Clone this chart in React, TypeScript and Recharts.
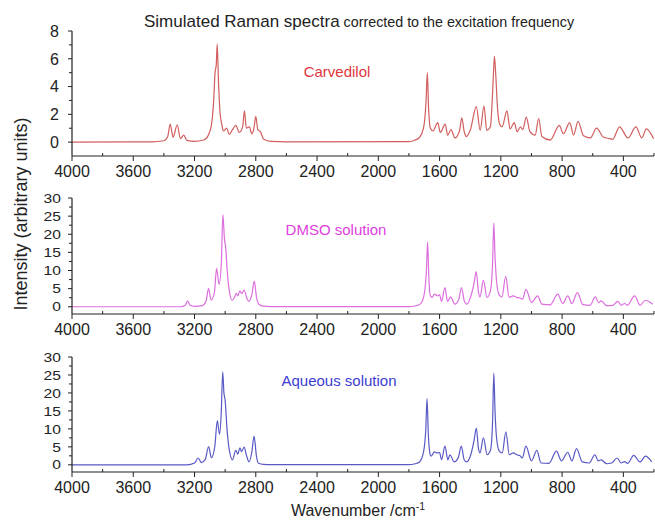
import { LineChart, Line, XAxis, YAxis } from 'recharts'

// wavenumber (cm-1), intensity, high to low wavenumber
const carvedilol: [number, number][] = [
  [4000, 0], [3480, 0.02], [3400, 0.1], [3375, 0.4], [3359, 1.3], [3340, 0.35], [3313, 1.25], [3292, 0.25],
  [3270, 0.5], [3250, 0.12], [3200, 0.05], [3140, 0.15], [3110, 0.5], [3090, 1.2], [3075, 3.0], [3066, 5.0],
  [3058, 5.6], [3052, 7.05], [3044, 4.5], [3034, 2.2], [3022, 1.3], [3012, 0.8], [2990, 1.0], [2973, 0.55],
  [2952, 0.9], [2930, 1.2], [2908, 0.7], [2886, 1.1], [2874, 2.25], [2862, 1.0], [2842, 1.1], [2826, 0.6],
  [2812, 1.0], [2800, 1.85], [2787, 0.9], [2770, 0.75], [2748, 0.2], [2700, 0.05], [2600, 0.02], [1800, 0.03],
  [1760, 0.15], [1730, 0.35], [1705, 1.0], [1688, 3.0], [1680, 5.0], [1672, 2.5], [1660, 1.0], [1643, 0.8],
  [1612, 1.4], [1595, 0.7], [1563, 1.3], [1547, 0.5], [1525, 0.9], [1500, 0.3], [1470, 0.8], [1455, 1.75],
  [1440, 0.8], [1425, 0.4], [1400, 0.85], [1360, 2.55], [1335, 0.85], [1310, 2.6], [1292, 0.85], [1268, 1.1],
  [1250, 4.5], [1242, 6.2], [1234, 5.0], [1222, 2.5], [1208, 1.3], [1192, 1.1], [1160, 2.25], [1140, 0.95],
  [1112, 1.4], [1094, 0.75], [1072, 1.1], [1057, 0.9], [1034, 1.8], [1010, 0.75], [976, 0.5], [953, 1.7],
  [932, 0.4], [878, 0.15], [818, 1.2], [792, 0.6], [750, 1.4], [725, 0.5], [696, 1.5], [660, 0.45],
  [615, 0.3], [575, 1.0], [530, 0.35], [490, 0.25], [470, 0.2], [425, 1.1], [370, 0.3], [318, 1.1],
  [280, 0.3], [250, 0.95], [203, 0.25],
]

const dmso: [number, number][] = [
  [4000, 0], [3290, 0], [3260, 0.4], [3245, 1.65], [3230, 0.4], [3200, 0.1], [3150, 0.3], [3125, 1.5],
  [3108, 5.1], [3092, 1.8], [3070, 4], [3056, 10.6], [3040, 6.2], [3025, 12], [3015, 25.4], [3005, 19],
  [2996, 16], [2985, 9], [2975, 5.0], [2955, 1.8], [2940, 2.5], [2928, 3.7], [2917, 3.0], [2904, 4.4],
  [2893, 3.6], [2876, 4.6], [2860, 2.5], [2846, 1.5], [2825, 3.5], [2810, 7.1], [2795, 2.5], [2780, 0.7],
  [2750, 0.15], [2700, 0.05], [1800, 0.05], [1760, 0.2], [1725, 0.8], [1700, 3.5], [1686, 10], [1678, 17.9],
  [1670, 8], [1660, 3], [1649, 2.6], [1633, 3.5], [1614, 3.0], [1600, 3.3], [1587, 1.5], [1565, 5.3],
  [1548, 1.5], [1528, 2.7], [1500, 0.7], [1475, 2.0], [1457, 5.3], [1438, 1.5], [1422, 0.7], [1395, 3.0],
  [1375, 6.5], [1361, 9.7], [1346, 4], [1336, 2.7], [1314, 7.3], [1290, 2.6], [1268, 4.4], [1254, 12],
  [1246, 23.1], [1238, 14], [1226, 6.2], [1210, 3.2], [1193, 2.7], [1168, 8.4], [1146, 2.6], [1120, 3.0],
  [1096, 2.6], [1075, 2.4], [1058, 2.1], [1036, 4.8], [1000, 1.2], [960, 3.0], [932, 0.7], [878, 0.5],
  [828, 3.5], [796, 0.9], [763, 3.0], [736, 0.9], [700, 3.9], [665, 0.6], [618, 0.4], [583, 2.7],
  [561, 1.1], [545, 1.6], [509, 0.3], [469, 0.4], [437, 1.5], [414, 0.4], [392, 0.9], [373, 0.4],
  [327, 3.0], [291, 0.4], [256, 1.8], [209, 0.7],
]

const aqueous: [number, number][] = [
  [4000, 0], [3250, 0], [3200, 0.5], [3176, 1.9], [3155, 0.6], [3130, 1.5], [3108, 5.1], [3090, 2.0],
  [3068, 5], [3051, 12.3], [3037, 8.5], [3026, 14], [3016, 25.9], [3008, 20], [3000, 17.9], [2988, 10],
  [2975, 4.7], [2952, 1.4], [2931, 4.0], [2917, 3.0], [2904, 4.7], [2893, 3.7], [2876, 4.9], [2860, 2.5],
  [2844, 0.8], [2826, 3.5], [2811, 8.0], [2796, 2.5], [2784, 0.5], [2750, 0.1], [2700, 0.05], [1800, 0.05],
  [1760, 0.3], [1731, 0.8], [1705, 3.5], [1690, 10], [1682, 18.4], [1673, 8], [1662, 3], [1655, 2.4],
  [1633, 3.6], [1614, 3.3], [1600, 3.4], [1587, 1.4], [1565, 5.2], [1546, 1.4], [1532, 2.8], [1505, 0.8],
  [1478, 2.0], [1458, 5.2], [1440, 1.5], [1423, 0.8], [1395, 3.0], [1374, 7], [1360, 10.2], [1346, 4.5],
  [1336, 3.3], [1314, 7.5], [1289, 2.8], [1267, 4.2], [1254, 12], [1246, 25.5], [1238, 15], [1227, 7.1],
  [1210, 3.8], [1191, 3.3], [1167, 9.2], [1145, 2.8], [1118, 3.3], [1096, 2.8], [1077, 2.6], [1060, 1.9],
  [1036, 5.2], [1000, 1.1], [965, 4.0], [938, 0.5], [886, 0.4], [837, 3.8], [804, 1.1], [763, 3.5],
  [736, 1.1], [706, 4.5], [668, 0.8], [624, 0.5], [586, 2.8], [564, 1.1], [545, 1.4], [509, 0.3],
  [477, 0.5], [441, 1.9], [414, 0.5], [392, 0.9], [373, 0.4], [332, 2.6], [291, 0.8], [256, 2.4],
  [215, 0.8],
]

const xTicks = [4000, 3800, 3600, 3400, 3200, 3000, 2800, 2600, 2400, 2200, 2000, 1800, 1600, 1400, 1200, 1000, 800, 600, 400, 200]
const xLabels = [4000, 3600, 3200, 2800, 2400, 2000, 1600, 1200, 800, 400]
const yTicksTop = [0, 1, 2, 3, 4, 5, 6, 7, 8]
const yLabelsTop = [0, 2, 4, 6, 8]
const yTicksSol = [0, 2.5, 5, 7.5, 10, 12.5, 15, 17.5, 20, 22.5, 25, 27.5, 30]
const yLabelsSol = [0, 5, 10, 15, 20, 25, 30]

const FONT = '"Liberation Sans", Arial, sans-serif'
const INK = '#222'

function makeXTick(labels: number[]) {
  return (props: any) => {
    const { x, y, payload } = props
    const major = labels.includes(payload.value)
    return (
      <g>
        <line x1={x} x2={x} y1={y - (major ? 0 : 3)} y2={y + (major ? 5 : 0)} stroke={INK} strokeWidth={1} />
        {major && (
          <text x={x} y={y + 21} textAnchor="middle" fontSize={16} fontFamily={FONT} fill={INK}>
            {payload.value}
          </text>
        )}
      </g>
    )
  }
}

// squat digits on the solution panels: short glyphs stretched to the reference width
function makeYTick(labels: number[], fontSize: number, gap: number, digitWidth?: number) {
  return (props: any) => {
    const { x, y, payload } = props
    const major = labels.includes(payload.value)
    const str = String(payload.value)
    const stretch = digitWidth ? { textLength: digitWidth * str.length, lengthAdjust: 'spacingAndGlyphs' } : {}
    return (
      <g>
        <line x1={x} x2={x - (major ? 4 : 3)} y1={y} y2={y} stroke={INK} strokeWidth={1} />
        {major && (
          <text x={x - gap} y={y} dy="0.36em" textAnchor="end" fontSize={fontSize} fontFamily={FONT} fill={INK} {...stretch}>
            {str}
          </text>
        )}
      </g>
    )
  }
}

interface PanelProps {
  data: [number, number][]
  color: string
  top: number
  height: number
  marginTop: number
  xAxisHeight: number
  yDomain: [number, number]
  yTicks: number[]
  yTick: (props: any) => any
}

function Panel({ data, color, top, height, marginTop, xAxisHeight, yDomain, yTicks, yTick }: PanelProps) {
  const rows = data.map(([wn, v]) => ({ wn, v }))
  return (
    <div style={{ position: 'absolute', left: 0, top }}>
      <LineChart width={655} height={height} data={rows} margin={{ top: marginTop, right: 1, bottom: 0, left: 12 }}>
        <XAxis
          dataKey="wn"
          type="number"
          domain={[200, 4000]}
          reversed
          allowDataOverflow
          ticks={xTicks}
          interval={0}
          height={xAxisHeight}
          tickSize={0}
          tickMargin={0}
          tickLine={false}
          axisLine={{ stroke: INK, strokeWidth: 1.2 }}
          tick={makeXTick(xLabels)}
        />
        <YAxis
          type="number"
          domain={yDomain}
          allowDataOverflow
          ticks={yTicks}
          interval={0}
          width={60}
          tickSize={0}
          tickMargin={0}
          tickLine={false}
          axisLine={{ stroke: INK, strokeWidth: 1.2 }}
          tick={yTick}
        />
        <Line dataKey="v" type="monotone" stroke={color} strokeWidth={1.2} dot={false} isAnimationActive={false} />
      </LineChart>
    </div>
  )
}

export default function App() {
  return (
    <div style={{ position: 'absolute', left: 0, top: 0, width: 655, height: 520, background: '#fff' }}>
      <Panel data={carvedilol} color="#d25e5e" top={0} height={185} marginTop={31} xAxisHeight={29}
        yDomain={[-1, 8]} yTicks={yTicksTop} yTick={makeYTick(yLabelsTop, 16, 13)} />
      <Panel data={dmso} color="#dc6ede" top={170} height={175} marginTop={28} xAxisHeight={31}
        yDomain={[-2, 30]} yTicks={yTicksSol} yTick={makeYTick(yLabelsSol, 13, 11, 8.7)} />
      <Panel data={aqueous} color="#5a5ac6" top={340} height={165} marginTop={17} xAxisHeight={33}
        yDomain={[-2, 30]} yTicks={yTicksSol} yTick={makeYTick(yLabelsSol, 13, 11, 8.7)} />

      <svg width={655} height={520} style={{ position: 'absolute', left: 0, top: 0, pointerEvents: 'none' }}>
        <text x={144} y={27} fontFamily={FONT} fill={INK}>
          <tspan fontSize={17}>Simulated Raman spectra</tspan>
          <tspan fontSize={14.3}> corrected to the excitation frequency</tspan>
        </text>
        <text x={337} y={77} textAnchor="middle" fontSize={15} fontFamily={FONT} fill="#e0343c">Carvedilol</text>
        <text x={336} y={235} textAnchor="middle" fontSize={15} fontFamily={FONT} fill="#e040e0">DMSO solution</text>
        <text x={339} y={386} textAnchor="middle" fontSize={15} fontFamily={FONT} fill="#3c3cd2">Aqueous solution</text>
        <text transform="translate(27,214) rotate(-90)" textAnchor="middle" fontSize={18} fontFamily={FONT} fill={INK}>
          Intensity (arbitrary units)
        </text>
        <text x={358} y={516} textAnchor="middle" fontSize={16} fontFamily={FONT} fill={INK}>
          Wavenumber /cm<tspan fontSize={10.5} dy={-6}>-1</tspan>
        </text>
      </svg>
    </div>
  )
}
